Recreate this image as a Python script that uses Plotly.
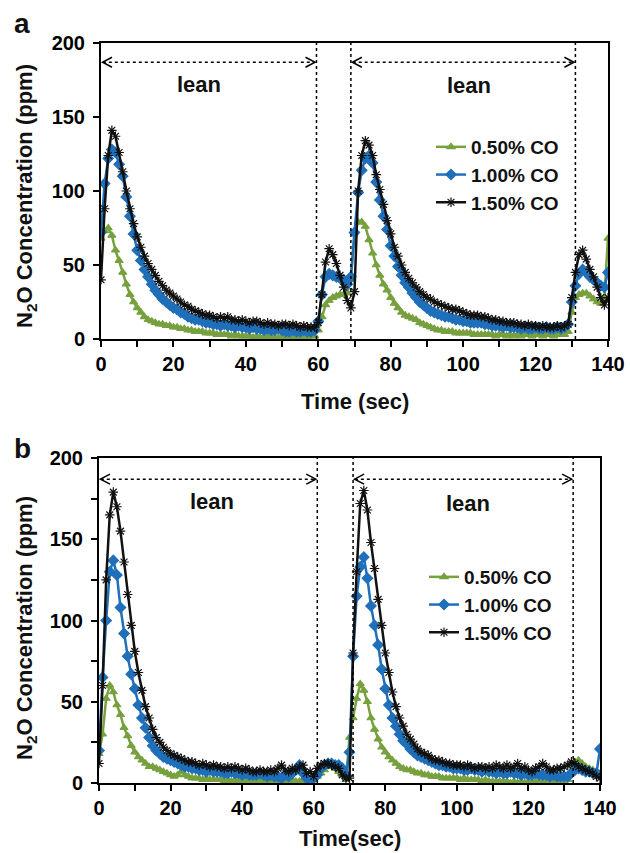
import plotly.graph_objects as go

# ---------------- data ----------------
time_s = list(range(0, 141))
series_names = ["0.50% CO", "1.00% CO", "1.50% CO"]

# panel a
a_co05 = [68,73,75,70,60,53,45,37,30,25,
          21,18,15,13,12,11,10,10,9,9,
          8,8,7,7,6,6,5,5,5,4,
          4,4,3,3,3,3,2,3,2,2,
          2,2,1,2,1,1,2,1,1,1,
          2,1,1,2,1,1,2,1,2,2,
          6,15,23,26,28,29,30,30,31,40,
          72,79,79,76,67,58,50,43,37,33,
          28,24,21,18,16,15,14,13,11,10,
          9,8,7,6,6,5,5,5,4,4,
          4,4,4,3,3,3,3,3,3,2,
          3,3,2,3,2,3,2,3,3,2,
          3,3,2,3,3,2,3,3,3,5,
          18,28,30,31,31,29,27,25,24,28,
          68]
a_co10 = [72,105,122,128,126,118,110,96,83,71,
          60,53,47,42,37,33,30,27,25,23,
          21,20,18,17,15,14,13,13,12,11,
          11,10,10,9,10,9,9,8,9,8,
          8,7,8,7,7,6,7,6,6,7,
          6,5,5,6,5,5,6,5,5,6,
          12,30,42,44,43,42,41,40,37,42,
          72,99,114,122,124,119,106,94,83,74,
          63,56,49,43,38,35,31,28,25,23,
          21,19,18,17,16,15,15,14,13,13,
          12,12,11,11,11,11,10,10,9,9,
          9,8,9,8,8,8,7,8,7,7,
          8,7,7,8,7,7,8,7,8,10,
          25,36,44,47,45,42,40,38,36,35,
          45]
a_co15 = [40,88,124,141,137,126,113,100,88,78,
          69,62,56,51,47,43,39,36,33,31,
          29,27,25,23,22,20,19,18,17,16,
          16,15,14,15,14,15,13,13,12,13,
          12,11,12,12,11,10,11,10,10,9,
          10,10,9,10,9,8,9,8,8,8,
          11,30,52,61,57,51,43,35,26,21,
          32,100,124,134,131,124,111,101,91,80,
          71,62,56,50,45,41,38,35,32,30,
          28,27,25,24,23,22,21,20,20,19,
          18,17,16,16,16,15,15,14,13,13,
          12,12,11,11,11,10,10,9,10,9,
          9,8,9,8,8,8,9,8,9,10,
          28,45,57,60,54,47,42,35,28,23,
          28]

# panel b
b_co05 = [18,30,52,60,56,48,42,34,29,23,
          19,16,14,12,10,10,9,8,7,6,
          5,4,5,7,5,4,3,3,3,2,
          3,2,2,2,2,1,2,1,2,1,
          1,2,1,1,1,2,1,1,1,2,
          1,1,1,1,2,1,1,2,1,2,
          2,4,6,8,10,10,9,7,5,2,
          28,40,52,61,57,50,40,33,27,22,
          19,16,14,12,10,9,8,8,7,6,
          6,5,5,4,4,4,3,3,3,3,
          3,2,3,2,2,2,2,1,2,1,
          1,1,1,1,1,0,1,0,1,0,
          1,0,1,0,1,1,0,1,1,1,
          1,2,11,13,14,12,10,9,8,7,
          6]
b_co10 = [20,65,100,130,137,128,108,92,78,67,
          58,48,40,34,28,23,20,18,16,15,
          14,13,12,11,10,10,9,9,8,8,
          7,8,7,7,7,6,6,7,6,6,
          5,6,5,5,5,6,5,4,5,4,
          4,3,5,4,6,8,11,6,3,1,
          3,5,9,11,12,12,11,11,9,5,
          19,78,115,133,139,126,109,97,85,70,
          58,48,40,35,30,26,24,21,19,17,
          16,15,14,13,12,11,11,10,10,9,
          9,9,8,8,9,8,8,7,8,7,
          7,6,7,6,6,7,6,6,5,6,
          5,5,6,5,5,5,4,5,4,4,
          4,4,6,8,9,8,7,7,6,6,
          21]
b_co15 = [12,60,125,165,179,170,155,136,116,97,
          81,68,57,47,40,33,28,25,22,20,
          18,17,16,15,14,13,13,12,11,12,
          11,10,11,10,10,9,10,9,10,9,
          8,9,8,7,7,8,7,7,8,7,
          9,11,8,7,9,8,10,11,6,7,
          4,9,11,12,12,11,10,9,5,3,
          3,80,130,172,180,168,148,132,113,97,
          80,68,56,47,40,35,30,27,24,21,
          19,18,17,15,14,14,13,12,12,11,
          11,11,10,11,10,9,10,10,9,10,
          9,11,10,9,11,9,10,12,9,10,
          8,7,9,10,12,10,8,8,9,9,
          10,11,13,12,10,9,8,7,6,4,
          3]

# lean periods (start, end) and phase boundary lines (sec)
lean_a = [(0, 59.5), (69, 131)]
bounds_a = [59.5, 69, 131]
lean_b = [(0, 61), (71, 132.5)]
bounds_b = [61, 71, 132.5]
lean_label = "lean"
arrow_level = 187
x_ticks = [0, 20, 40, 60, 80, 100, 120, 140]
y_ticks = [0, 50, 100, 150, 200]

# ---------------- style ----------------
W, H = 630, 853
FONT = "Liberation Sans"
colors = ["#77a03e", "#1f6fba", "#111111"]
symbols = ["triangle-up", "diamond", "asterisk-open"]
msizes = [7, 8, 8]

# pixel boxes of the two plot areas: (left, right, top, bottom)
box_a = (101, 608, 43, 339)
box_b = (99, 600, 458, 783)


def dom(box):
    l, r, t, b = box
    return [l / W, r / W], [1 - b / H, 1 - t / H]


fig = go.Figure()

panels = [
    ("x", "y", "legend", [a_co05, a_co10, a_co15]),
    ("x2", "y2", "legend2", [b_co05, b_co10, b_co15]),
]
for xa, ya, lg, data in panels:
    for i, vals in enumerate(data):
        fig.add_trace(go.Scatter(
            x=time_s, y=vals, mode="lines+markers", name=series_names[i],
            xaxis=xa, yaxis=ya, legend=lg,
            line=dict(color=colors[i], width=2.5),
            marker=dict(symbol=symbols[i], size=msizes[i], color=colors[i],
                        line=dict(color=colors[i], width=1.2)),
        ))

tickfont = dict(family=FONT, size=20, color="black", weight="bold")


def axis_common(domain):
    return dict(domain=domain, showline=True, mirror=True, linecolor="black",
                linewidth=2, showgrid=False, zeroline=False, ticks="outside",
                tickcolor="black", tickwidth=1.5, ticklen=6, tickfont=tickfont,
                automargin=False)


xd, yd = dom(box_a)
fig.update_layout(
    xaxis=dict(**axis_common(xd), range=[0, 140], tickvals=x_ticks, anchor="y",
               minor=dict(dtick=10, tick0=0, ticks="outside", ticklen=6,
                          tickcolor="black", tickwidth=1.5)),
    yaxis=dict(**axis_common(yd), range=[0, 200], tickvals=y_ticks, anchor="x",
               ticklabelstandoff=4),
)
xd2, yd2 = dom(box_b)
fig.update_layout(
    xaxis2=dict(**axis_common(xd2), range=[0, 140], tickvals=x_ticks, anchor="y2",
                minor=dict(dtick=10, tick0=0, ticks="outside", ticklen=6,
                           tickcolor="black", tickwidth=1.5)),
    yaxis2=dict(**axis_common(yd2), range=[0, 200], tickvals=y_ticks, anchor="x2",
                ticklabelstandoff=4,
                minor=dict(dtick=25, tick0=0, ticks="outside", ticklen=6,
                           tickcolor="black", tickwidth=1.5)),
)

shapes = []
annotations = []
for xa, ya, box, leans, bounds in [("x", "y", box_a, lean_a, bounds_a),
                                    ("x2", "y2", box_b, lean_b, bounds_b)]:
    l, r, t, b = box
    ppx = (r - l) / 140.0
    ppy = (b - t) / 200.0
    dx = 11 / ppx
    dy = 5 / ppy
    for xv in bounds:
        shapes.append(dict(type="line", xref=xa, yref=ya, x0=xv, x1=xv, y0=0, y1=200,
                           line=dict(color="black", width=1.5, dash="dot")))
    for (s, e) in leans:
        shapes.append(dict(type="line", xref=xa, yref=ya, x0=s + 0.5, x1=e - 0.5,
                           y0=arrow_level, y1=arrow_level,
                           line=dict(color="black", width=1.5, dash="dot")))
        shapes.append(dict(type="path", xref=xa, yref=ya,
                           path=f"M {s+dx},{arrow_level+dy} L {s+0.4},{arrow_level} L {s+dx},{arrow_level-dy}",
                           line=dict(color="black", width=1.5)))
        shapes.append(dict(type="path", xref=xa, yref=ya,
                           path=f"M {e-dx},{arrow_level+dy} L {e-0.4},{arrow_level} L {e-dx},{arrow_level-dy}",
                           line=dict(color="black", width=1.5)))

# "lean" labels
lean_pos_a = [(27, 172), (101.5, 171)]
lean_pos_b = [(31.5, 173), (103, 172)]
for xa, ya, poss in [("x", "y", lean_pos_a), ("x2", "y2", lean_pos_b)]:
    for (xv, yv) in poss:
        annotations.append(dict(x=xv, y=yv, xref=xa, yref=ya, text=lean_label,
                                showarrow=False, xanchor="center", yanchor="middle",
                                font=dict(family=FONT, size=22, color="#111",
                                          weight="bold")))


def paper_text(px, py, text, font, angle=0):
    return dict(x=px / W, y=1 - py / H, xref="paper", yref="paper", text=text,
                showarrow=False, xanchor="center", yanchor="middle",
                textangle=angle, font=font)


titlefont = dict(family=FONT, size=22, color="#111", weight="bold")
annotations.append(paper_text((box_a[0] + box_a[1]) / 2, 401, "Time (sec)", titlefont))
annotations.append(paper_text((box_b[0] + box_b[1]) / 2, 838, "Time(sec)", titlefont))
ytitle = "N<sub>2</sub>O Concentration (ppm)"
annotations.append(paper_text(26, 196, ytitle, titlefont, -90))
annotations.append(paper_text(26, 628, ytitle, titlefont, -90))
panelfont = dict(family=FONT, size=28, color="#111", weight="bold")
annotations.append(paper_text(22, 24, "a", panelfont))
annotations.append(paper_text(22, 449, "b", panelfont))

legfont = dict(family=FONT, size=19, color="#111", weight="bold")
fig.update_layout(
    width=W, height=H,
    margin=dict(l=0, r=0, t=0, b=0, autoexpand=False),
    paper_bgcolor="white", plot_bgcolor="white",
    shapes=shapes, annotations=annotations,
    legend=dict(x=431 / W, y=1 - 128 / H, xanchor="left", yanchor="top",
                bgcolor="rgba(0,0,0,0)", font=legfont, itemwidth=30,
                tracegroupgap=0),
    legend2=dict(x=424 / W, y=1 - 558 / H, xanchor="left", yanchor="top",
                 bgcolor="rgba(0,0,0,0)", font=legfont, itemwidth=30,
                 tracegroupgap=0),
)

fig.write_html("out.html", config={"displayModeBar": False},
               post_script="document.body.style.margin='0px';")
